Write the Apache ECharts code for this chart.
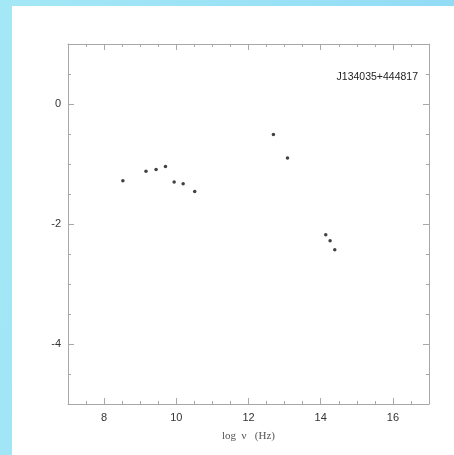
<!DOCTYPE html>
<html>
<head>
<meta charset="utf-8">
<script src="https://cdn.jsdelivr.net/npm/echarts@6/dist/echarts.min.js"></script>
<style>
  html, body { margin: 0; padding: 0; width: 454px; height: 455px; overflow: hidden;
    background: linear-gradient(100deg, #a4e8f6 0%, #98e0f6 60%, #8fd8f4 100%); }
  #chart { position: absolute; left: 12px; top: 6px; width: 442px; height: 449px; background: #ffffff; }
</style>
</head>
<body>
<div id="chart"></div>
<script>
// Data
const logNu = [8.52, 9.16, 9.44, 9.70, 9.94, 10.19, 10.51, 12.69, 13.08, 14.14, 14.26, 14.39];
const logFlux = [-1.28, -1.12, -1.09, -1.04, -1.30, -1.33, -1.46, -0.51, -0.90, -2.18, -2.28, -2.43];
const xTickLabels = [8, 10, 12, 14, 16];
const yTickLabels = [-4, -2, 0];
const sourceName = 'J134035+444817';
const xName = 'log  \u03bd   (Hz)';

const xMin = 7, xMax = 17, yMin = -5, yMax = 1;
const axisColor = '#a8a8a8';

function majorAxis(pos, showLabel, ticks, isX) {
  return {
    type: 'value', position: pos, min: isX ? xMin : yMin, max: isX ? xMax : yMax,
    axisLine: { show: true, onZero: false, lineStyle: { color: axisColor, width: 1 } },
    axisTick: { show: true, inside: true, length: 6, customValues: ticks, lineStyle: { color: axisColor } },
    axisLabel: showLabel ? {
      show: true, customValues: ticks, color: '#333', fontSize: 11,
      fontFamily: 'Liberation Sans, Arial, sans-serif', margin: isX ? 8 : 7
    } : { show: false },
    splitLine: { show: false }
  };
}
function minorAxis(pos, isX) {
  return {
    type: 'value', position: pos, min: isX ? xMin : yMin, max: isX ? xMax : yMax, interval: 0.5,
    axisLine: { show: false, onZero: false },
    axisTick: { show: true, inside: true, length: 3, lineStyle: { color: axisColor } },
    axisLabel: { show: false },
    splitLine: { show: false }
  };
}

const xA0 = majorAxis('bottom', true, xTickLabels, true);
xA0.name = xName;
xA0.nameLocation = 'middle';
xA0.nameGap = 27;
xA0.nameTextStyle = { color: '#555', fontSize: 11, fontFamily: 'Liberation Serif, DejaVu Serif, serif' };

const chart = echarts.init(document.getElementById('chart'), null, { renderer: 'canvas' });
chart.setOption({
  animation: false,
  backgroundColor: '#ffffff',
  grid: { left: 56, top: 38, width: 361, height: 360, containLabel: false },
  title: {
    text: sourceName, right: 31, top: 61,
    textStyle: { color: '#222', fontSize: 10.5, fontWeight: 'normal', fontFamily: 'Liberation Sans, Arial, sans-serif' }
  },
  xAxis: [
    xA0,
    minorAxis('bottom', true),
    majorAxis('top', false, xTickLabels, true),
    minorAxis('top', true)
  ],
  yAxis: [
    majorAxis('left', true, yTickLabels, false),
    minorAxis('left', false),
    majorAxis('right', false, yTickLabels, false),
    minorAxis('right', false)
  ],
  series: [{
    type: 'scatter', xAxisIndex: 0, yAxisIndex: 0,
    symbol: 'circle', symbolSize: 3.5,
    itemStyle: { color: '#111' },
    data: logNu.map((v, i) => [v, logFlux[i]])
  }]
});
</script>
</body>
</html>
